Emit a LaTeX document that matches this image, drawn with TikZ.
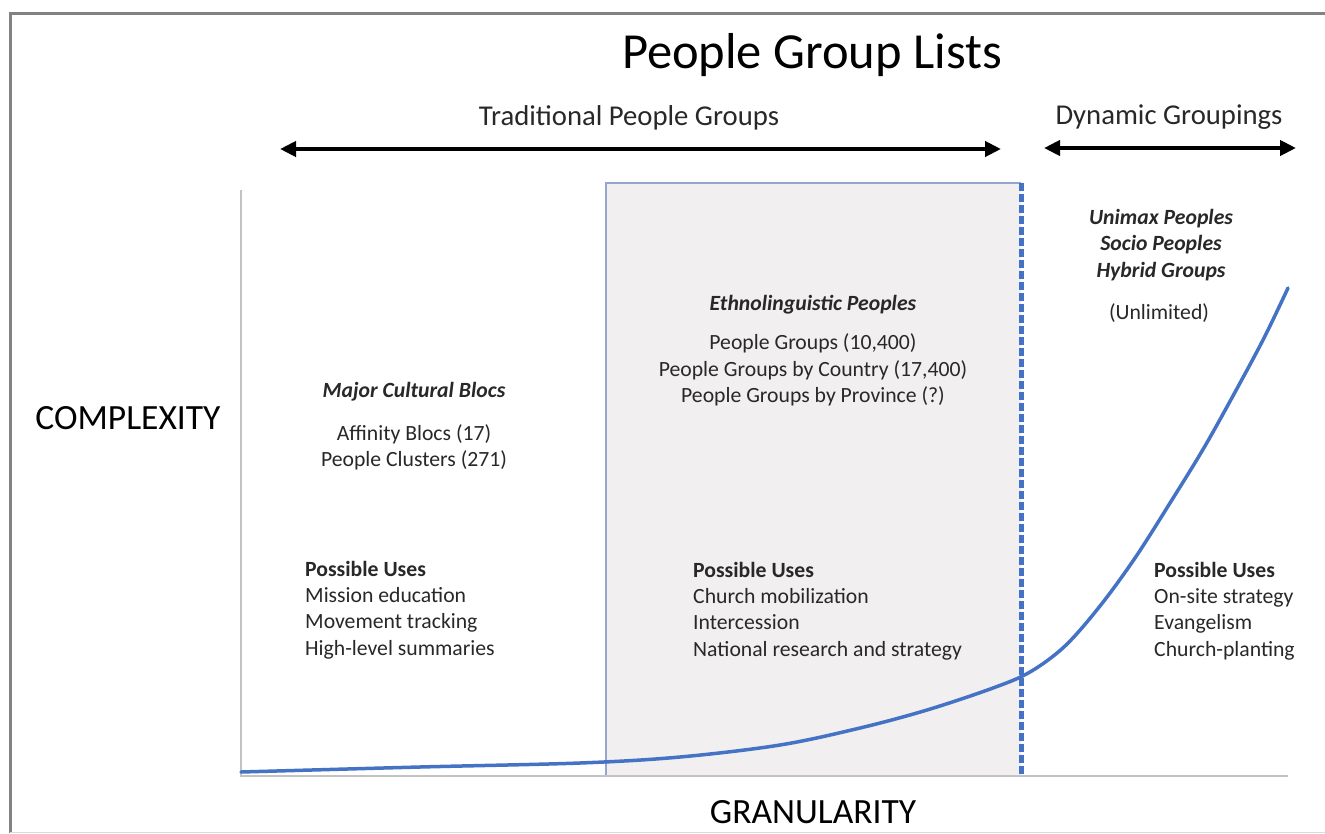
\documentclass[tikz,border=0pt]{standalone}
\usepackage{fontspec}
\setmainfont{Carlito}
\usetikzlibrary{arrows.meta}
\definecolor{curveblue}{RGB}{68,114,196}
\definecolor{boxfill}{RGB}{241,239,240}
\definecolor{boxedge}{RGB}{150,165,205}
\definecolor{axisgray}{RGB}{195,195,195}
\definecolor{framegray}{RGB}{130,130,130}
\definecolor{txt}{RGB}{40,40,40}
\tikzset{
  body/.style={inner sep=0pt, text=txt, font=\fontsize{21.7}{26.3}\selectfont, align=left},
  bodyc/.style={body, align=center},
  headit/.style={inner sep=0pt, text=txt, font=\fontsize{21.7}{26.3}\selectfont\bfseries\itshape, align=center},
  bigarrow/.style={line width=4pt, {Triangle[length=16pt,width=15pt]}-{Triangle[length=16pt,width=15pt]}},
  axislabel/.style={inner sep=0pt, font=\fontsize{35.5}{42}\selectfont},
  sublabel/.style={inner sep=0pt, text=txt, font=\fontsize{28.7}{34}\selectfont}
}
\begin{document}
\begin{tikzpicture}[x=1pt,y=-1pt]
\useasboundingbox (0,0) rectangle (1325,833);
\fill[white] (0,0) rectangle (1325,833);
% frame
\draw[framegray, line width=3pt] (10,833) -- (10,13) -- (1325,13);
\draw[axisgray!60, line width=1pt] (10,832) -- (1325,832);
% shaded box
\fill[boxfill] (606,183) rectangle (1021,776);
\draw[boxedge, line width=2pt] (606,776) -- (606,183) -- (1021,183);
% axes
\draw[axisgray, line width=2pt] (241,190) -- (241,776) -- (1288,776);
% dashed right edge
\draw[curveblue, line width=5pt, dash pattern=on 8pt off 3pt] (1021,183) -- (1021,776);
% curve
\draw[curveblue, line width=3.5pt, line cap=round] plot[smooth, tension=0.55] coordinates {
 (241,772) (420,767) (580,763) (680,757) (780,745) (860,728) (927,710) (993,688)
 (1030,672) (1065,646) (1100,606) (1135,558) (1170,503) (1205,446) (1240,383)
 (1265,336) (1288,288)};
% title
\node[inner sep=0pt, font=\fontsize{50.5}{60}\selectfont] (title) at (812,55) {People Group Lists};
\node[sublabel] (trad) at (629,118) {Traditional People Groups};
\node[sublabel] (dyn) at (1169,117) {Dynamic Groupings};
\coordinate (tradL) at (280,149);
\coordinate (tradR) at (1001,149);
\coordinate (dynL) at (1044,148);
\coordinate (dynR) at (1296,148);
\draw[bigarrow] (tradL) -- (tradR);
\draw[bigarrow] (dynL) -- (dynR);
% axis labels
\node[axislabel] (cx) at (128,418) {COMPLEXITY};
\node[axislabel] (gr) at (813,812) {GRANULARITY};
% left column
\node[headit] (mcb) at (414,392) {Major Cultural Blocs};
\node[bodyc] (aff) at (414,447) {Affinity Blocs (17)\\People Clusters (271)};
\node[body, anchor=west] (pu1) at (305,610) {\textbf{Possible Uses}\\Mission education\\Movement tracking\\High-level summaries};
% middle column
\node[headit] (eth) at (813,305) {Ethnolinguistic Peoples};
\node[bodyc] (pg) at (813,370) {People Groups (10,400)\\People Groups by Country (17,400)\\People Groups by Province (?)};
\node[body, anchor=west] (pu2) at (693,611) {\textbf{Possible Uses}\\Church mobilization\\Intercession\\National research and strategy};
% right column
\node[headit] (uni) at (1161,245) {Unimax Peoples\\Socio Peoples\\Hybrid Groups};
\node[bodyc] (unl) at (1159,313) {(Unlimited)};
\node[body, anchor=west] (pu3) at (1154,611) {\textbf{Possible Uses}\\On-site strategy\\Evangelism\\Church-planting};
\end{tikzpicture}
\end{document}
